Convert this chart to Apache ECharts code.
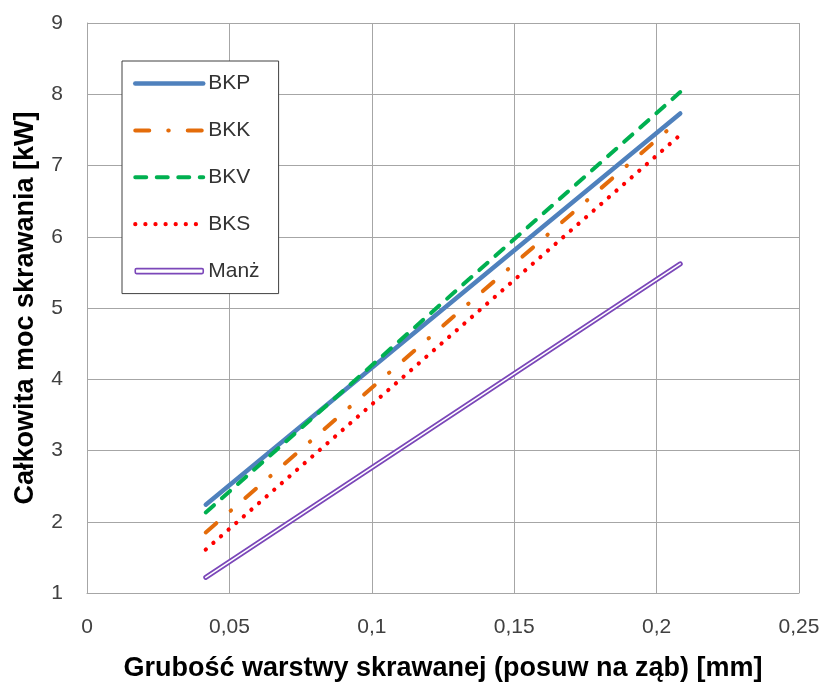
<!DOCTYPE html>
<html>
<head>
<meta charset="utf-8">
<script src="https://cdn.jsdelivr.net/npm/echarts@6/dist/echarts.min.js"></script>
<style>
  html, body { margin: 0; padding: 0; background: #fff; }
  #chart { width: 824px; height: 684px; }
</style>
</head>
<body>
<div id="chart"></div>
<script>
// Chip thickness (feed per tooth) in mm – start and end of each fitted line
const feedPerTooth = [0.0417, 0.2083];

// Total cutting power [kW] for each cutting model
const powerBKP = [2.24, 7.73];
const powerBKK = [1.85, 7.65];
const powerBKV = [2.13, 8.03];
const powerBKS = [1.61, 7.43];
const powerManz = [1.22, 5.62];

const seriesNames = ['BKP', 'BKK', 'BKV', 'BKS', 'Manż'];

const xTitle = 'Grubość warstwy skrawanej (posuw na ząb) [mm]';
const yTitle = 'Całkowita moc skrawania [kW]';

const FONT = '"Liberation Sans", Arial, sans-serif';
const GRID = '#a6a6a6';
const PURPLE = '#7b47b9';

function pairs(ys) {
  return feedPerTooth.map((x, i) => [x, ys[i]]);
}

function decimalComma(v) {
  return String(+v.toFixed(2)).replace('.', ',');
}

const chart = echarts.init(document.getElementById('chart'), null, { renderer: 'canvas' });

chart.setOption({
  animation: false,
  backgroundColor: '#fff',
  grid: { left: 87, right: 25, top: 23, bottom: 91, outerBoundsMode: 'none', containLabel: false },
  xAxis: {
    type: 'value',
    min: 0, max: 0.25, interval: 0.05,
    name: xTitle,
    nameLocation: 'middle',
    nameGap: 62,
    nameTextStyle: { fontFamily: FONT, fontWeight: 'bold', fontSize: 27, color: '#000' },
    axisLine: { show: true, lineStyle: { color: GRID, width: 1 } },
    axisTick: { show: false },
    splitLine: { show: true, lineStyle: { color: GRID, width: 1 } },
    axisLabel: { margin: 24, fontFamily: FONT, fontSize: 21, color: '#404040', formatter: decimalComma }
  },
  yAxis: {
    type: 'value',
    min: 1, max: 9, interval: 1,
    name: yTitle,
    nameLocation: 'middle',
    nameGap: 48,
    nameTextStyle: { fontFamily: FONT, fontWeight: 'bold', fontSize: 27, color: '#000' },
    axisLine: { show: true, lineStyle: { color: GRID, width: 1 } },
    axisTick: { show: false },
    splitLine: { show: true, lineStyle: { color: GRID, width: 1 } },
    axisLabel: { margin: 24, fontFamily: FONT, fontSize: 21, color: '#404040' }
  },
  legend: {
    orient: 'vertical',
    left: 122, top: 61,
    padding: [12, 19, 12, 11],
    itemWidth: 68, itemHeight: 5, itemGap: 25.9,
    backgroundColor: '#fff',
    borderColor: '#404040', borderWidth: 1,
    textStyle: { fontFamily: FONT, fontSize: 21, color: '#333' },
    // keep the series' own stroke width and dash pattern, hide the centre marker
    lineStyle: { width: 'inherit', type: 'inherit', cap: 'round' },
    itemStyle: { opacity: 0 },
    data: [
      'BKP', 'BKK', 'BKV', 'BKS',
      { name: 'Manż', icon: 'roundRect', itemStyle: { opacity: 1, color: '#fff', borderColor: PURPLE, borderWidth: 1.6 } }
    ]
  },
  series: [
    {
      name: 'BKP', type: 'line', data: pairs(powerBKP), symbol: 'none',
      lineStyle: { color: '#4f81bd', width: 4.5, cap: 'round' },
      itemStyle: { color: '#4f81bd' }
    },
    {
      name: 'BKK', type: 'line', data: pairs(powerBKK), symbol: 'none',
      lineStyle: { color: '#e46c0a', width: 4, cap: 'round', type: [14, 19, 0.5, 19] },
      itemStyle: { color: '#e46c0a' }
    },
    {
      name: 'BKV', type: 'line', data: pairs(powerBKV), symbol: 'none',
      lineStyle: { color: '#00b050', width: 4, cap: 'round', type: [11, 10.5] },
      itemStyle: { color: '#00b050' }
    },
    {
      name: 'BKS', type: 'line', data: pairs(powerBKS), symbol: 'none',
      lineStyle: { color: '#ff0000', width: 4.2, cap: 'round', type: [0.1, 10] },
      itemStyle: { color: '#ff0000' }
    },
    {
      name: 'Manż', type: 'line', data: pairs(powerManz), symbol: 'none',
      lineStyle: { color: PURPLE, width: 5, cap: 'round' },
      itemStyle: { color: PURPLE }
    },
    {
      // white core that turns the Manż line into a double stroke
      name: 'Manż-core', type: 'line', data: pairs(powerManz), symbol: 'none', silent: true,
      lineStyle: { color: '#fff', width: 1.6, cap: 'round' },
      itemStyle: { color: '#fff' }
    }
  ]
});
</script>
</body>
</html>
